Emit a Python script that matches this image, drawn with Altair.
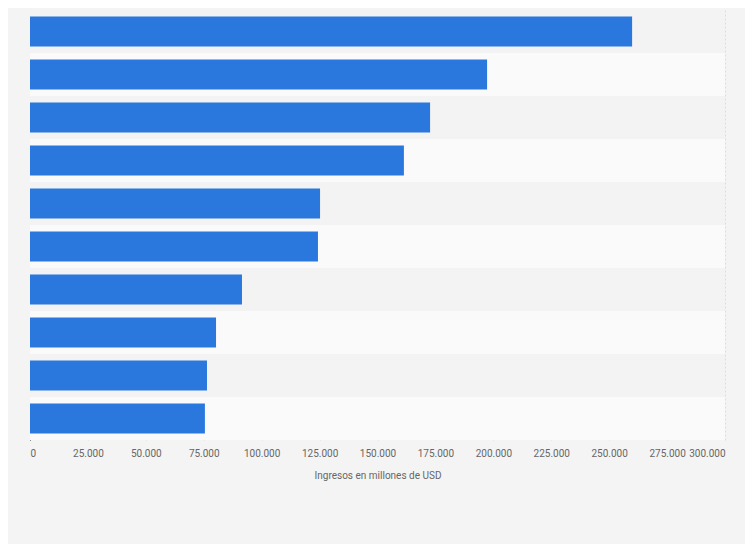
import altair as alt
import pandas as pd

ranks = [str(i) for i in range(1, 11)]
revenues = [259900, 197300, 172700, 161400, 125200, 124300, 91500, 80300, 76400, 75500]

df = pd.DataFrame({"rank": ranks, "revenue": revenues})
df["stripe"] = ["a" if i % 2 == 0 else "b" for i in range(len(ranks))]

W, H = 695, 430
y_enc = alt.Y("rank:N", sort=ranks, title=None,
              scale=alt.Scale(paddingInner=0.3, paddingOuter=0.15),
              axis=alt.Axis(labels=False, ticks=False, domainColor="#333333", domainWidth=1))

# full-band stripes drawn as thick rules at the band centres
rows = alt.Chart(df).mark_rule(strokeWidth=43).encode(
    y=alt.Y("rank:N", sort=ranks, title=None),
    x=alt.value(0), x2=alt.value(W),
    color=alt.Color("stripe:N", scale=alt.Scale(domain=["a", "b"], range=["#f3f3f3", "#fafafa"]), legend=None),
)

bars = alt.Chart(df).mark_bar(color="#2a78de").encode(
    y=y_enc,
    x=alt.X("revenue:Q", title="Ingresos en millones de USD",
            scale=alt.Scale(domain=[0, 300000], nice=False),
            axis=alt.Axis(values=list(range(0, 300001, 25000)),
                          labelExpr="replace(format(datum.value, ','), regexp(',', 'g'), '.')",
                          grid=True, gridColor="#dddddd", gridDash=[2, 2],
                          domain=False, ticks=False, labelColor="#666666", labelFontSize=10,
                          titleColor="#666666", titleFontSize=10, titleFontWeight="normal",
                          labelPadding=8, titlePadding=12)),
)

chart = alt.layer(rows, bars).properties(
    width=W, height=H, background="#f4f4f4",
    padding={"left": 22, "top": 2, "right": 20, "bottom": 104},
    autosize=alt.AutoSizeParams(type="none"),
).configure_view(stroke=None).configure_axis(labelFont="Roboto", titleFont="Roboto")

chart.save("out.html", embed_options={"renderer": "svg", "actions": False})
